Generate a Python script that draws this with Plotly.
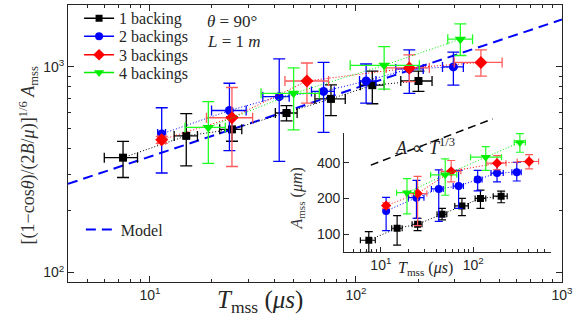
import math
import plotly.graph_objects as go

# ---------------- data ----------------
series_names = ["1 backing", "2 backings", "3 backings", "4 backings"]

black_T = [7.4, 15.0, 25.0, 46.0, 75.6, 120.0, 201.0]
black_Tmin = [6.0, 13.1, 21.8, 40.6, 63.2, 105.0, 165.0]
black_Tmax = [8.7, 17.0, 27.9, 51.8, 88.7, 137.0, 234.0]
black_Y = [362, 462, 497, 597, 699, 815, 854]
black_Ymin = [290, 330, 435, 547, 580, 662, 760]
black_Ymax = [434, 593, 572, 649, 817, 953, 953]
black_A = [88.6, 112, 121, 147, 173, 200, 209]
black_Amin = [70, 80.5, 107, 132, 143, 165, 184]
black_Amax = [105, 143, 136, 165, 200, 235, 231]

blue_T = [11.4, 24.3, 42.4, 69.6, 112.0, 181.5, 297.0]
blue_Tmin = [10.9, 19.9, 35.3, 60.8, 104.0, 156.0, 263.0]
blue_Tmax = [11.9, 29.3, 47.4, 78.5, 125.0, 212.0, 332.0]
blue_Y = [472, 614, 717, 760, 854, 978, 1000]
blue_Ymin = [305, 392, 347, 480, 667, 744, 815]
blue_Ymax = [633, 833, 1095, 1051, 1033, 1209, 1179]
blue_A = [157, 203, 241, 255, 289, 328, 334]
blue_Amin = [107, 136, 128, 165, 232, 276, 281]
blue_Amax = [204, 285, 349, 345, 345, 393, 405]

red_T = [11.4, 25.0, 57.8, 181.5, 404.0]
red_Tmin = [10.9, 18.8, 45.2, 140.0, 300.0]
red_Tmax = [11.9, 31.5, 73.6, 227.0, 512.0]
red_Y = [442, 566, 854, 989, 1051]
red_Ymin = [425, 328, 667, 848, 902]
red_Ymax = [460, 794, 1045, 1144, 1209]
red_A = [174, 220, 339, 398, 411]
red_Amin = [165, 118, 276, 350, 356]
red_Amax = [184, 308, 419, 461, 470]

green_T = [19.2, 49.8, 137.0, 321.0]
green_Tmin = [14.8, 34.6, 93.7, 279.0]
green_Tmax = [23.2, 66.4, 203.0, 368.0]
green_Y = [508, 744, 1018, 1364]
green_Ymin = [340, 494, 780, 1136]
green_Ymax = [678, 989, 1254, 1620]
green_A = [224, 317, 447, 596]
green_Amin = [148, 213, 345, 492]
green_Amax = [294, 432, 548, 708]

model_T = [4, 1000]
model_Y = [270, 1700]

main_xticks = [10, 100, 1000]
main_xticktext = ["10<sup>1</sup>", "10<sup>2</sup>", "10<sup>3</sup>"]
main_yticks = [100, 1000]
main_yticktext = ["10<sup>2</sup>", "10<sup>3</sup>"]
inset_xticks = [10, 100]
inset_xticktext = ["10<sup>1</sup>", "10<sup>2</sup>"]
inset_yticks = [100, 200, 400]
inset_yticktext = ["100", "200", "400"]

# ---------------- styling ----------------
SERIF = "Liberation Serif"
SANS = "Liberation Sans"
AXC = "#262626"
TXT = "#262626"

styles = [
    dict(color="#000000", err="#000000", symbol="square", size=8, isize=7),
    dict(color="#0000ff", err="#0000ff", symbol="circle", size=9, isize=8),
    dict(color="#ff0000", err="#ff5a5a", symbol="diamond", size=10, isize=8),
    dict(color="#00ee00", err="#22ff22", symbol="triangle-down", size=10, isize=9),
]

data = [
    (black_T, black_Tmin, black_Tmax, black_Y, black_Ymin, black_Ymax, black_A, black_Amin, black_Amax),
    (blue_T, blue_Tmin, blue_Tmax, blue_Y, blue_Ymin, blue_Ymax, blue_A, blue_Amin, blue_Amax),
    (red_T, red_Tmin, red_Tmax, red_Y, red_Ymin, red_Ymax, red_A, red_Amin, red_Amax),
    (green_T, green_Tmin, green_Tmax, green_Y, green_Ymin, green_Ymax, green_A, green_Amin, green_Amax),
]

legend_ids = ["legend", "legend3", "legend4", "legend5"]
legend_rows_y = [0.952, 0.887, 0.820, 0.756]


def plus(v, hi):
    return [h - a for a, h in zip(v, hi)]


def minus(v, lo):
    return [a - l for a, l in zip(v, lo)]


fig = go.Figure()

# model line
fig.add_trace(go.Scatter(
    x=model_T, y=model_Y, mode="lines", name="Model",
    line=dict(color="#0000ff", width=2, dash="10px,6px"),
    legend="legend2", showlegend=True, xaxis="x", yaxis="y",
))

for (T, Tmin, Tmax, Y, Ymin, Ymax, A, Amin, Amax), st, nm, lg in zip(data, styles, series_names, legend_ids):
    # main
    fig.add_trace(go.Scatter(
        x=T, y=Y, mode="lines+markers", showlegend=False,
        line=dict(color=st["color"], width=1, dash="1px,2px"),
        marker=dict(color=st["color"], symbol=st["symbol"], size=st["size"]),
        error_x=dict(type="data", array=plus(T, Tmax), arrayminus=minus(T, Tmin),
                     color=st["err"], thickness=1.3, width=5),
        error_y=dict(type="data", array=plus(Y, Ymax), arrayminus=minus(Y, Ymin),
                     color=st["err"], thickness=1.3, width=6),
        xaxis="x", yaxis="y",
    ))
    # inset
    fig.add_trace(go.Scatter(
        x=T, y=A, mode="lines+markers", showlegend=False,
        line=dict(color=st["color"], width=1, dash="1px,2px"),
        marker=dict(color=st["color"], symbol=st["symbol"], size=st["isize"]),
        error_x=dict(type="data", array=plus(T, Tmax), arrayminus=minus(T, Tmin),
                     color=st["err"], thickness=1.2, width=3),
        error_y=dict(type="data", array=plus(A, Amax), arrayminus=minus(A, Amin),
                     color=st["err"], thickness=1.2, width=4),
        xaxis="x2", yaxis="y2",
    ))
    # legend entry (solid line + marker, as in the reference legend)
    fig.add_trace(go.Scatter(
        x=[None], y=[None], mode="lines+markers", name=nm,
        line=dict(color=st["color"], width=1.5),
        marker=dict(color=st["color"], symbol=st["symbol"], size=st["size"] - 1),
        legend=lg, xaxis="x", yaxis="y",
    ))


def minor_vals(e0, e1):
    return [m * 10 ** e for e in range(e0, e1) for m in range(2, 10)]


common_axis = dict(type="log", showgrid=False, zeroline=False, showline=True,
                   linecolor=AXC, linewidth=1, ticks="inside", tickcolor=AXC,
                   tickfont=dict(family=SANS, size=14, color=AXC), tickmode="array")

legend_font = dict(family=SERIF, size=16, color=TXT)
legend_layout = {}
for lg, yy in zip(legend_ids, legend_rows_y):
    legend_layout[lg] = dict(x=0.0224, y=yy, xanchor="left", yanchor="middle",
                             bgcolor="rgba(0,0,0,0)", font=legend_font, itemwidth=30)

fig.update_layout(
    width=584, height=322,
    margin=dict(l=68, r=22, t=1, b=40),
    paper_bgcolor="white", plot_bgcolor="white",
    xaxis=dict(**common_axis, range=[math.log10(4), 3], domain=[0, 1], anchor="y",
               tickvals=main_xticks, ticktext=main_xticktext, ticklen=6, mirror="ticks",
               minor=dict(tickmode="array", tickvals=minor_vals(0, 3), ticks="inside",
                          ticklen=3, tickcolor=AXC, showgrid=False)),
    yaxis=dict(**common_axis, range=[math.log10(90), math.log10(2000)], domain=[0, 1], anchor="x",
               tickvals=main_yticks, ticktext=main_yticktext, ticklen=6, mirror="ticks",
               minor=dict(tickmode="array", tickvals=minor_vals(2, 4), ticks="inside",
                          ticklen=3, tickcolor=AXC, showgrid=False)),
    xaxis2=dict(**common_axis, range=[math.log10(4), math.log10(700)], domain=[0.559, 0.978],
                anchor="y2", tickvals=inset_xticks, ticktext=inset_xticktext, ticklen=5,
                minor=dict(tickmode="array", tickvals=minor_vals(0, 3), ticks="inside",
                           ticklen=3, tickcolor=AXC, showgrid=False)),
    yaxis2=dict(**common_axis, range=[math.log10(70), math.log10(720)], domain=[0.107, 0.539],
                anchor="x2", tickvals=inset_yticks, ticktext=inset_yticktext, ticklen=5),
    legend2=dict(x=0.026, y=0.189, xanchor="left", yanchor="middle", bgcolor="rgba(0,0,0,0)",
                 font=legend_font, itemwidth=30),
    showlegend=True,
    **legend_layout,
)

ann_font = dict(family=SERIF, size=17, color=TXT)
fig.add_annotation(text="<i>θ</i> = 90°", xref="paper", yref="paper", x=0.277, y=0.94,
                   xanchor="left", yanchor="middle", showarrow=False, font=ann_font)
fig.add_annotation(text="<i>L</i> = 1 <i>m</i>", xref="paper", yref="paper", x=0.277, y=0.869,
                   xanchor="left", yanchor="middle", showarrow=False, font=ann_font)
fig.add_annotation(text="<i>A</i> ∝ <i>T</i><sup>1/3</sup>", xref="paper", yref="paper",
                   x=0.723, y=0.49, xanchor="center", yanchor="middle", showarrow=False,
                   font=dict(family=SERIF, size=18, color=TXT))
fig.add_annotation(text="<i>T</i><sub>mss</sub> (<i>μs</i>)", xref="paper", yref="paper",
                   x=0.389, y=-0.071, xanchor="center", yanchor="middle", showarrow=False,
                   font=dict(family=SERIF, size=25, color=TXT))
fig.add_annotation(text="[(1−cos<i>θ</i>)/(2<i>B</i>/<i>μ</i>)]<sup>1/6</sup> <i>A</i><sub>mss</sub>",
                   xref="paper", yref="paper", x=-0.081, y=0.457, textangle=-90,
                   xanchor="center", yanchor="middle", showarrow=False,
                   font=dict(family=SERIF, size=18, color="#333"))
fig.add_annotation(text="<i>T</i><sub>mss</sub> (<i>μs</i>)", xref="paper", yref="paper",
                   x=0.723, y=0.05, xanchor="center", yanchor="middle", showarrow=False,
                   font=dict(family=SERIF, size=16, color=TXT))
fig.add_annotation(text="<i>A</i><sub>mss</sub> (<i>μm</i>)", xref="paper", yref="paper",
                   x=0.465, y=0.30, textangle=-90, xanchor="center", yanchor="middle",
                   showarrow=False, font=dict(family=SERIF, size=16, color="#333"))

# guide line A ∝ T^(1/3) drawn as a decoration above the inset
fig.add_shape(type="line", xref="paper", yref="paper", x0=0.613, y0=0.422, x1=0.860, y1=0.589,
              line=dict(color="black", width=1.5, dash="8px,5px"))

fig.write_html("out.html",
               config={"displayModeBar": False},
               post_script="document.body.style.margin='0px';document.body.style.padding='0px';")
